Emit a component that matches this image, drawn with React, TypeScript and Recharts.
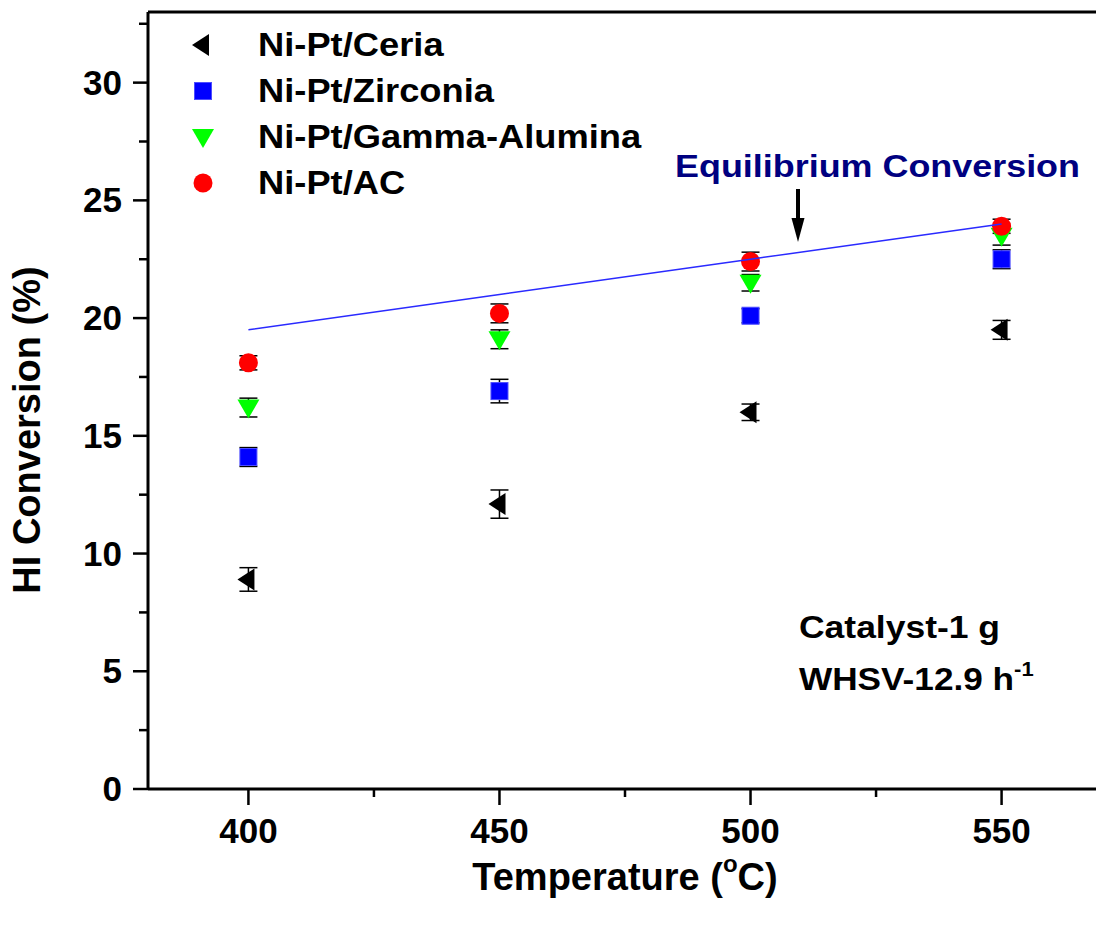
import { ComposedChart, Scatter, ErrorBar, XAxis, YAxis, Legend, ReferenceLine } from "recharts";

// temperatures (°C)
const temperatures = [400, 450, 500, 550];

// HI conversion (%) and error bars for each catalyst
const ceria = [8.9, 12.1, 16.0, 19.5];
const ceriaErr = [0.5, 0.6, 0.35, 0.4];
const zirconia = [14.1, 16.9, 20.1, 22.5];
const zirconiaErr = [0.4, 0.5, 0.3, 0.4];
const gammaAlumina = [16.2, 19.1, 21.5, 23.5];
const gammaAluminaErr = [0.4, 0.4, 0.35, 0.4];
const activatedCarbon = [18.1, 20.2, 22.4, 23.9];
const activatedCarbonErr = [0.3, 0.4, 0.4, 0.3];
const equilibrium = [19.5, 21.0, 22.5, 24.0];

const xTicks = [400, 425, 450, 475, 500, 525, 550];
const yTicks = [0, 2.5, 5, 7.5, 10, 12.5, 15, 17.5, 20, 22.5, 25, 27.5, 30, 32.5];

const FONT = '"Liberation Sans", Arial, Helvetica, sans-serif';

const toPoints = (vals: number[], errs?: number[]) =>
  temperatures.map((t, i) => ({ t, v: vals[i], e: errs ? errs[i] : 0 }));

// marker shapes
const LeftTriangle = ({ cx, cy }: any) => (
  <polygon points={`${cx - 11},${cy} ${cx + 6},${cy - 11} ${cx + 6},${cy + 11}`} fill="#000" />
);
const Square = ({ cx, cy }: any) => (
  <rect x={cx - 8.5} y={cy - 8.5} width={17} height={17} fill="#0000ff" stroke="#4d4dff" strokeWidth={1} />
);
const DownTriangle = ({ cx, cy }: any) => (
  <polygon points={`${cx - 11},${cy - 8} ${cx + 11},${cy - 8} ${cx},${cy + 11}`} fill="#00ff00" />
);
const Dot = ({ cx, cy }: any) => <circle cx={cx} cy={cy} r={9.5} fill="#ff0000" />;
const NoShape = () => <g />;

const series = [
  { name: "Ni-Pt/Ceria", data: toPoints(ceria, ceriaErr), shape: LeftTriangle },
  { name: "Ni-Pt/Zirconia", data: toPoints(zirconia, zirconiaErr), shape: Square },
  { name: "Ni-Pt/Gamma-Alumina", data: toPoints(gammaAlumina, gammaAluminaErr), shape: DownTriangle },
  { name: "Ni-Pt/AC", data: toPoints(activatedCarbon, activatedCarbonErr), shape: Dot },
];

const YTick = ({ x, y, payload }: any) => {
  const major = payload.value % 5 === 0;
  return (
    <g>
      <line x1={x} x2={x - (major ? 15 : 9)} y1={y} y2={y} stroke="#000" strokeWidth={2.5} />
      {major && (
        <text x={x - 26} y={y + 12} textAnchor="end" fontFamily={FONT} fontWeight="bold" fontSize={35} fill="#000">
          {payload.value}
        </text>
      )}
    </g>
  );
};

const XTick = ({ x, y, payload }: any) => {
  const major = payload.value % 50 === 0;
  return (
    <g>
      <line x1={x} x2={x} y1={y} y2={y + (major ? 16 : 8)} stroke="#000" strokeWidth={2.5} />
      {major && (
        <text x={x} y={y + 54} textAnchor="middle" fontFamily={FONT} fontWeight="bold" fontSize={35} fill="#000">
          {payload.value}
        </text>
      )}
    </g>
  );
};

const renderLegend = () => (
  <div style={{ fontFamily: FONT, fontWeight: "bold", fontSize: 33 }}>
    {series.map((s) => {
      const Shape = s.shape;
      return (
        <div key={s.name} style={{ display: "flex", alignItems: "center", height: 46 }}>
          <svg width={30} height={30}>
            <Shape cx={15} cy={15} />
          </svg>
          <span
            style={{
              marginLeft: 40,
              lineHeight: "46px",
              display: "inline-block",
              whiteSpace: "nowrap",
              transform: "scaleX(1.1)",
              transformOrigin: "left center",
            }}
          >
            {s.name}
          </span>
        </div>
      );
    })}
  </div>
);

export default function App() {
  return (
    <div style={{ position: "absolute", left: 0, top: 0, width: 1096, height: 926, overflow: "hidden", background: "#fff" }}>
      <ComposedChart width={1102} height={926} margin={{ top: 12, right: 0, bottom: 0, left: 0 }}>
        <XAxis
          dataKey="t"
          type="number"
          domain={[380, 570]}
          ticks={xTicks}
          interval={0}
          height={137}
          tickSize={0}
          tickMargin={0}
          tick={<XTick />}
          axisLine={{ stroke: "#000", strokeWidth: 3 }}
          label={{
            content: ({ viewBox }: any) => (
              <text
                x={viewBox.x + viewBox.width / 2}
                y={viewBox.y + 101}
                textAnchor="middle"
                fontFamily={FONT}
                fontWeight="bold"
                fontSize={38}
                fill="#000"
              >
                Temperature (
                <tspan fontSize={24} dy={-18}>o</tspan>
                <tspan dy={18}>C)</tspan>
              </text>
            ),
          }}
        />
        <YAxis
          type="number"
          dataKey="v"
          domain={[0, 33]}
          ticks={yTicks}
          interval={0}
          width={148}
          tickSize={0}
          tickMargin={0}
          tick={<YTick />}
          axisLine={{ stroke: "#000", strokeWidth: 3 }}
          label={{
            content: () => (
              <text
                x={40}
                y={430}
                transform="rotate(-90, 40, 430)"
                textAnchor="middle"
                fontFamily={FONT}
                fontWeight="bold"
                fontSize={38}
                fill="#000"
              >
                HI Conversion (%)
              </text>
            ),
          }}
        />
        <ReferenceLine y={33} stroke="#000" strokeWidth={3} />
        <Legend
          layout="vertical"
          align="center"
          verticalAlign="middle"
          wrapperStyle={{ left: 188, top: 22, width: 500 }}
          content={renderLegend}
        />
        {series.map((s) => (
          <Scatter key={s.name} name={s.name} data={s.data} dataKey="v" shape={s.shape} isAnimationActive={false}>
            <ErrorBar dataKey="e" direction="y" width={9} stroke="#000" strokeWidth={1.5} />
          </Scatter>
        ))}
        <Scatter
          name="Equilibrium"
          data={toPoints(equilibrium)}
          dataKey="v"
          shape={NoShape}
          line={{ stroke: "#2a2aff", strokeWidth: 1.5 }}
          legendType="none"
          isAnimationActive={false}
        />
      </ComposedChart>
      <svg width={1096} height={926} style={{ position: "absolute", left: 0, top: 0, pointerEvents: "none" }}>
        <text
          x={675}
          y={177}
          textLength={405}
          lengthAdjust="spacingAndGlyphs"
          fontFamily={FONT}
          fontWeight="bold"
          fontSize={31}
          fill="#000080"
        >
          Equilibrium Conversion
        </text>
        <line x1={798} x2={798} y1={189} y2={222} stroke="#000" strokeWidth={4} />
        <polygon points="791.5,218 804.5,218 798,242" fill="#000" />
        <text
          x={799}
          y={638}
          textLength={201}
          lengthAdjust="spacingAndGlyphs"
          fontFamily={FONT}
          fontWeight="bold"
          fontSize={32}
          fill="#000"
        >
          Catalyst-1 g
        </text>
        <text x={799} y={690} fontFamily={FONT} fontWeight="bold" fontSize={32} fill="#000" transform="translate(799,690) scale(1.1,1) translate(-799,-690)">
          WHSV-12.9 h
          <tspan fontSize={20} dy={-14}>-1</tspan>
        </text>
      </svg>
    </div>
  );
}
